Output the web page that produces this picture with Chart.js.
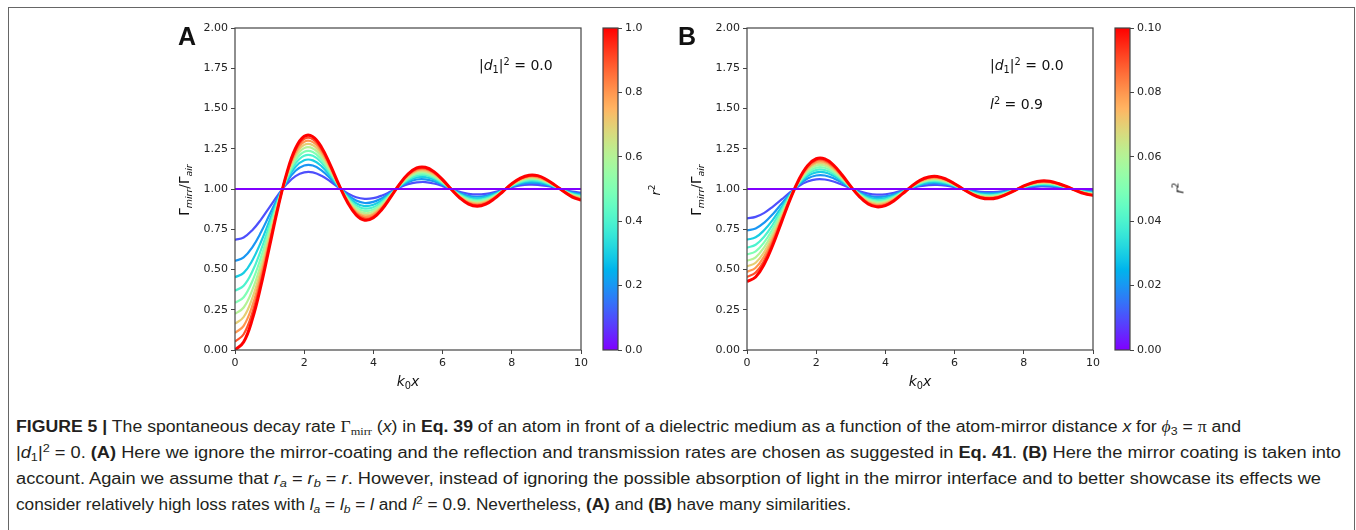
<!DOCTYPE html>
<html>
<head>
<meta charset="utf-8">
<script src="https://cdn.jsdelivr.net/npm/chart.js@4.4.1/dist/chart.umd.min.js"></script>
<style>
html,body{margin:0;padding:0;background:#fff;}
#wrap{position:relative;width:1356px;height:530px;overflow:hidden;font-family:"DejaVu Sans",sans-serif;color:#111;}
.frame{position:absolute;left:8px;top:7px;width:1347px;height:600px;border:1px solid #666;border-bottom:none;box-sizing:border-box;}
canvas{position:absolute;}
.t{position:absolute;white-space:nowrap;line-height:1;}
.rot{position:absolute;white-space:nowrap;line-height:1;transform:translate(-50%,-50%) rotate(-90deg);}
.ctr{position:absolute;white-space:nowrap;line-height:1;transform:translate(-50%,-50%);}
.letter{font-family:"Liberation Sans",Arial,sans-serif;font-weight:bold;font-size:25px;}
sub.m,sup.m{font-size:70%;line-height:0;}
sub.m{vertical-align:-0.3em;}
sup.m{vertical-align:0.55em;}
.cap{position:absolute;left:16px;white-space:nowrap;display:inline-block;transform-origin:0 0;
  font-family:"Liberation Sans Narrow","Liberation Sans",Arial,sans-serif;font-size:16px;line-height:20px;color:#231f20;}
.cap b{font-weight:bold;}
.cap sub,.cap sup{font-size:70%;line-height:0;}
.cap sub{vertical-align:-0.3em;}
.cap sup{vertical-align:0.5em;}
.serif{font-family:"Liberation Serif","Times New Roman",serif;}
</style>
</head>
<body>
<div id="wrap">
  <div class="frame"></div>
  <canvas id="chartA" width="430" height="385" style="left:170px;top:10px;"></canvas>
  <canvas id="cbarA" width="80" height="360" style="left:590px;top:10px;"></canvas>
  <canvas id="chartB" width="430" height="385" style="left:682px;top:10px;"></canvas>
  <canvas id="cbarB" width="80" height="360" style="left:1102px;top:10px;"></canvas>

  <div class="t letter" style="left:178px;top:24px;">A</div>
  <div class="t letter" style="left:678px;top:24px;">B</div>

  <div class="rot" style="left:185px;top:190px;font-size:13.5px;">Γ<sub class="m"><i>mirr</i></sub>/Γ<sub class="m"><i>air</i></sub></div>
  <div class="rot" style="left:697px;top:190px;font-size:13.5px;">Γ<sub class="m"><i>mirr</i></sub>/Γ<sub class="m"><i>air</i></sub></div>
  <div class="ctr" style="left:408px;top:381px;font-size:14px;"><i>k</i><sub class="m">0</sub><i>x</i></div>
  <div class="ctr" style="left:920px;top:381px;font-size:14px;"><i>k</i><sub class="m">0</sub><i>x</i></div>
  <div class="rot" style="left:655px;top:190px;font-size:13px;"><i>r</i><sup class="m">2</sup></div>
  <div class="rot" style="left:1179px;top:188px;font-size:13px;"><i>r</i><sup class="m">2</sup></div>

  <div class="t" style="left:479px;top:58px;font-size:14px;">|<i>d</i><sub class="m">1</sub>|<sup class="m">2</sup> = 0.0</div>
  <div class="t" style="left:990px;top:58px;font-size:14px;">|<i>d</i><sub class="m">1</sub>|<sup class="m">2</sup> = 0.0</div>
  <div class="t" style="left:990px;top:97px;font-size:14px;"><i>l</i><sup class="m">2</sup> = 0.9</div>

  <div class="cap" data-w="1225" style="top:417px;"><b>FIGURE 5 |</b> The spontaneous decay rate <span class="serif">Γ<sub>mirr</sub></span> (<i>x</i>) in <b>Eq. 39</b> of an atom in front of a dielectric medium as a function of the atom-mirror distance <i>x</i> for <i class="serif">ϕ</i><sub>3</sub> = <span class="serif">π</span> and</div>
  <div class="cap" data-w="1325" style="top:443px;">|<i>d</i><sub>1</sub>|<sup>2</sup> = 0. <b>(A)</b> Here we ignore the mirror-coating and the reflection and transmission rates are chosen as suggested in <b>Eq. 41</b>. <b>(B)</b> Here the mirror coating is taken into</div>
  <div class="cap" data-w="1305" style="top:469px;">account. Again we assume that <i>r<sub>a</sub></i> = <i>r<sub>b</sub></i> = <i>r</i>. However, instead of ignoring the possible absorption of light in the mirror interface and to better showcase its effects we</div>
  <div class="cap" data-w="835" style="top:495px;">consider relatively high loss rates with <i>l<sub>a</sub></i> = <i>l<sub>b</sub></i> = <i>l</i> and <i>l</i><sup>2</sup> = 0.9. Nevertheless, <b>(A)</b> and <b>(B)</b> have many similarities.</div>
</div>

<script>
// ---------------- DATA ----------------
const xValues = [0,0.25,0.5,0.75,1,1.25,1.5,1.75,2,2.25,2.5,2.75,3,3.25,3.5,3.75,4,4.25,4.5,4.75,5,5.25,5.5,5.75,6,6.25,6.5,6.75,7,7.25,7.5,7.75,8,8.25,8.5,8.75,9,9.25,9.5,9.75,10];

// Panel A: r^2 values of the curves
const r2A = [0,0.1,0.2,0.3,0.4,0.5,0.6,0.7,0.8,0.9,1.0];
// Panel B: r^2 values of the curves (l^2 = 0.9)
const r2B = [0,0.01,0.02,0.03,0.04,0.05,0.06,0.07,0.08,0.09,0.10];

const A_r00 = [1,1,1,1,1,1,1,1,1,1,1,1,1,1,1,1,1,1,1,1,1,1,1,1,1,1,1,1,1,1,1,1,1,1,1,1,1,1,1,1,1];
const A_r01 = [0.684,0.699,0.744,0.810,0.888,0.965,1.032,1.080,1.103,1.103,1.082,1.048,1.009,0.974,0.949,0.939,0.943,0.960,0.984,1.009,1.030,1.041,1.043,1.034,1.018,0.999,0.982,0.970,0.966,0.970,0.981,0.996,1.010,1.022,1.027,1.026,1.019,1.008,0.995,0.984,0.978];
const A_r02 = [0.553,0.575,0.638,0.731,0.841,0.951,1.046,1.113,1.146,1.146,1.116,1.067,1.012,0.963,0.928,0.913,0.920,0.943,0.977,1.013,1.042,1.059,1.060,1.048,1.026,0.999,0.975,0.958,0.952,0.958,0.973,0.994,1.015,1.031,1.038,1.037,1.027,1.011,0.993,0.978,0.969];
const A_r03 = [0.452,0.479,0.556,0.671,0.805,0.940,1.056,1.138,1.179,1.178,1.142,1.083,1.015,0.954,0.912,0.894,0.902,0.931,0.972,1.016,1.051,1.072,1.074,1.059,1.032,0.999,0.969,0.949,0.942,0.949,0.967,0.993,1.018,1.037,1.047,1.045,1.032,1.013,0.991,0.973,0.962];
const A_r04 = [0.368,0.399,0.487,0.620,0.775,0.931,1.065,1.160,1.207,1.206,1.164,1.095,1.018,0.947,0.898,0.878,0.887,0.920,0.968,1.018,1.059,1.083,1.086,1.068,1.037,0.999,0.964,0.941,0.933,0.941,0.962,0.991,1.021,1.043,1.054,1.052,1.038,1.015,0.990,0.969,0.956];
const A_r05 = [0.293,0.328,0.427,0.575,0.749,0.923,1.072,1.179,1.231,1.230,1.183,1.107,1.020,0.941,0.886,0.863,0.873,0.911,0.964,1.020,1.066,1.093,1.096,1.076,1.041,0.999,0.960,0.934,0.925,0.934,0.958,0.990,1.023,1.048,1.061,1.059,1.042,1.017,0.989,0.965,0.951];
const A_r06 = [0.225,0.264,0.372,0.534,0.725,0.915,1.079,1.196,1.254,1.252,1.201,1.117,1.022,0.936,0.875,0.850,0.861,0.902,0.961,1.022,1.072,1.101,1.105,1.084,1.045,0.999,0.956,0.927,0.917,0.927,0.954,0.989,1.025,1.053,1.067,1.064,1.046,1.019,0.988,0.962,0.946];
const A_r07 = [0.163,0.205,0.322,0.497,0.703,0.908,1.086,1.211,1.274,1.272,1.217,1.126,1.023,0.930,0.865,0.838,0.850,0.894,0.957,1.024,1.078,1.110,1.113,1.090,1.048,0.999,0.953,0.922,0.911,0.922,0.950,0.989,1.027,1.057,1.072,1.069,1.050,1.020,0.987,0.959,0.942];
const A_r08 = [0.106,0.150,0.275,0.462,0.682,0.902,1.092,1.226,1.293,1.291,1.232,1.135,1.025,0.926,0.856,0.827,0.840,0.887,0.954,1.025,1.084,1.117,1.121,1.097,1.052,0.998,0.950,0.916,0.905,0.916,0.947,0.988,1.029,1.061,1.077,1.074,1.053,1.022,0.986,0.956,0.938];
const A_r09 = [0.051,0.098,0.231,0.430,0.663,0.896,1.097,1.240,1.311,1.309,1.246,1.143,1.026,0.921,0.847,0.816,0.830,0.880,0.952,1.027,1.089,1.124,1.128,1.102,1.055,0.998,0.947,0.911,0.899,0.911,0.943,0.987,1.031,1.065,1.082,1.079,1.056,1.023,0.985,0.953,0.934];
const A_r10 = [0.000,0.049,0.190,0.399,0.645,0.891,1.102,1.253,1.327,1.325,1.259,1.151,1.028,0.917,0.839,0.806,0.821,0.874,0.949,1.028,1.093,1.131,1.135,1.108,1.058,0.998,0.944,0.906,0.893,0.906,0.940,0.986,1.033,1.068,1.086,1.083,1.059,1.024,0.984,0.950,0.930];

const B_r00 = [1,1,1,1,1,1,1,1,1,1,1,1,1,1,1,1,1,1,1,1,1,1,1,1,1,1,1,1,1,1,1,1,1,1,1,1,1,1,1,1,1];
const B_r01 = [0.818,0.827,0.852,0.891,0.935,0.980,1.019,1.046,1.060,1.059,1.047,1.027,1.005,0.985,0.971,0.965,0.967,0.977,0.991,1.005,1.017,1.024,1.025,1.020,1.011,1.000,0.990,0.983,0.981,0.983,0.989,0.998,1.006,1.012,1.016,1.015,1.011,1.004,0.997,0.991,0.987];
const B_r02 = [0.743,0.755,0.791,0.845,0.909,0.972,1.026,1.065,1.084,1.084,1.067,1.039,1.007,0.979,0.959,0.950,0.954,0.967,0.987,1.007,1.024,1.034,1.035,1.028,1.015,1.000,0.986,0.976,0.973,0.976,0.985,0.996,1.008,1.018,1.022,1.021,1.015,1.006,0.996,0.987,0.982];
const B_r03 = [0.685,0.700,0.745,0.810,0.888,0.966,1.032,1.080,1.103,1.103,1.082,1.048,1.009,0.974,0.949,0.939,0.944,0.960,0.984,1.009,1.029,1.041,1.043,1.034,1.018,0.999,0.982,0.970,0.966,0.970,0.981,0.996,1.010,1.022,1.027,1.026,1.019,1.008,0.995,0.984,0.978];
const B_r04 = [0.636,0.654,0.705,0.781,0.871,0.960,1.037,1.092,1.119,1.118,1.094,1.055,1.010,0.970,0.941,0.930,0.935,0.954,0.981,1.010,1.034,1.048,1.049,1.039,1.021,0.999,0.980,0.966,0.961,0.966,0.978,0.995,1.012,1.025,1.031,1.030,1.022,1.009,0.994,0.982,0.975];
const B_r05 = [0.593,0.613,0.670,0.755,0.855,0.955,1.042,1.103,1.133,1.132,1.105,1.061,1.011,0.966,0.934,0.921,0.927,0.949,0.979,1.012,1.038,1.053,1.055,1.044,1.024,0.999,0.977,0.962,0.957,0.962,0.976,0.994,1.013,1.028,1.035,1.034,1.024,1.010,0.994,0.980,0.972];
const B_r06 = [0.554,0.576,0.639,0.732,0.842,0.951,1.046,1.113,1.146,1.145,1.116,1.067,1.012,0.963,0.928,0.914,0.920,0.944,0.977,1.013,1.042,1.058,1.060,1.048,1.026,0.999,0.975,0.958,0.952,0.958,0.973,0.994,1.014,1.030,1.038,1.037,1.026,1.011,0.993,0.978,0.969];
const B_r07 = [0.519,0.542,0.610,0.710,0.829,0.947,1.049,1.122,1.158,1.157,1.125,1.073,1.013,0.960,0.922,0.907,0.914,0.939,0.975,1.014,1.045,1.063,1.065,1.052,1.028,0.999,0.973,0.955,0.949,0.955,0.971,0.993,1.016,1.033,1.041,1.040,1.029,1.012,0.992,0.976,0.966];
const B_r08 = [0.485,0.511,0.583,0.690,0.817,0.944,1.053,1.130,1.168,1.168,1.133,1.078,1.014,0.957,0.917,0.900,0.908,0.935,0.974,1.015,1.048,1.067,1.070,1.056,1.030,0.999,0.971,0.952,0.945,0.952,0.969,0.993,1.017,1.035,1.044,1.043,1.031,1.013,0.992,0.974,0.964];
const B_r09 = [0.454,0.481,0.557,0.672,0.806,0.940,1.056,1.138,1.179,1.178,1.141,1.082,1.015,0.955,0.912,0.894,0.902,0.931,0.972,1.015,1.051,1.072,1.074,1.059,1.032,0.999,0.969,0.949,0.942,0.949,0.967,0.993,1.018,1.037,1.047,1.045,1.032,1.013,0.991,0.973,0.962];
const B_r10 = [0.425,0.453,0.534,0.654,0.796,0.937,1.059,1.145,1.188,1.187,1.149,1.087,1.016,0.952,0.907,0.889,0.897,0.927,0.971,1.016,1.054,1.075,1.078,1.062,1.033,0.999,0.968,0.946,0.939,0.946,0.966,0.992,1.019,1.039,1.050,1.048,1.034,1.014,0.991,0.971,0.960];

const seriesA = [A_r00,A_r01,A_r02,A_r03,A_r04,A_r05,A_r06,A_r07,A_r08,A_r09,A_r10];
const seriesB = [B_r00,B_r01,B_r02,B_r03,B_r04,B_r05,B_r06,B_r07,B_r08,B_r09,B_r10];

// Tick labels
const xTickLabels = ['0','2','4','6','8','10'];
const yTickLabels = ['0.00','0.25','0.50','0.75','1.00','1.25','1.50','1.75','2.00'];
const cbarTickLabelsA = ['0.0','0.2','0.4','0.6','0.8','1.0'];
const cbarTickLabelsB = ['0.00','0.02','0.04','0.06','0.08','0.10'];

// ---------------- STYLE ----------------
function rainbow(t){ // matplotlib 'rainbow' colormap
  const c = v => Math.max(0, Math.min(1, v));
  const r = c(Math.abs(2*t - 0.5));
  const g = c(Math.sin(Math.PI*t));
  const b = c(Math.cos(Math.PI*t/2));
  return `rgb(${Math.round(r*255)},${Math.round(g*255)},${Math.round(b*255)})`;
}
const tickFont = {family:'"DejaVu Sans", sans-serif', size:11};
const tickColor = '#222';
const frameColor = '#444';

const framePlugin = {
  id:'frame',
  afterDatasetsDraw(chart){
    const {ctx, chartArea:{left,top,right,bottom}} = chart;
    ctx.save();
    ctx.strokeStyle = frameColor; ctx.lineWidth = 1.2;
    ctx.strokeRect(left, top, right-left, bottom-top);
    ctx.restore();
  }
};
const gradPlugin = {
  id:'grad',
  beforeDatasetsDraw(chart){
    const {ctx, chartArea:{left,top,right,bottom}} = chart;
    const g = ctx.createLinearGradient(0, bottom, 0, top);
    for(let i=0;i<=40;i++){ const t=i/40; g.addColorStop(t, rainbow(t)); }
    ctx.save(); ctx.fillStyle = g; ctx.fillRect(left, top, right-left, bottom-top); ctx.restore();
  }
};

function makeDatasets(series, r2vals, r2max){
  // draw order: purple reference line on top, then red ... blue
  const ds = [];
  const idx = [0,10,9,8,7,6,5,4,3,2,1];
  idx.forEach(k=>{
    ds.push({
      data: series[k].map((y,i)=>({x:xValues[i], y:y})),
      borderColor: rainbow(r2vals[k]/r2max),
      borderWidth: k===10 ? 3 : 2.2,
      pointRadius: 0,
      tension: 0.4,
      fill:false,
      clip: 0
    });
  });
  return ds;
}

function mainChart(id, series, r2vals, r2max){
  return new Chart(document.getElementById(id), {
    type:'line',
    data:{datasets: makeDatasets(series, r2vals, r2max)},
    plugins:[framePlugin],
    options:{
      responsive:false, animation:false, events:[],
      layout:{padding:{left:0, top:18, right:19, bottom:0}},
      plugins:{legend:{display:false}, tooltip:{enabled:false}},
      scales:{
        x:{type:'linear', min:0, max:10,
           afterFit(s){ s.height = 45; },
           grid:{display:true, drawOnChartArea:false, drawTicks:true, tickLength:4, color:frameColor},
           border:{display:false},
           ticks:{stepSize:2, font:tickFont, color:tickColor, padding:3, maxRotation:0,
             callback:(v)=> xTickLabels[Math.round(v/2)]}},
        y:{type:'linear', min:0, max:2,
           afterFit(s){ s.width = 65; },
           grid:{display:true, drawOnChartArea:false, drawTicks:true, tickLength:4, color:frameColor},
           border:{display:false},
           ticks:{stepSize:0.25, font:tickFont, color:tickColor, padding:3,
             callback:(v)=> yTickLabels[Math.round(v/0.25)]}}
      }
    }
  });
}

function colorBar(id, labels){
  return new Chart(document.getElementById(id), {
    type:'line',
    data:{datasets:[]},
    plugins:[gradPlugin, framePlugin],
    options:{
      responsive:false, animation:false, events:[],
      layout:{padding:{left:13, top:18, right:0, bottom:20}},
      plugins:{legend:{display:false}, tooltip:{enabled:false}},
      scales:{
        x:{type:'linear', min:0, max:1, display:false},
        y:{type:'linear', position:'right', min:0, max:1,
           afterFit(s){ s.width = 52; },
           grid:{display:true, drawOnChartArea:false, drawTicks:true, tickLength:4, color:frameColor},
           border:{display:false},
           ticks:{stepSize:0.2, font:tickFont, color:tickColor, padding:3,
             callback:(v)=> labels[Math.round(v/0.2)]}}
      }
    }
  });
}

mainChart('chartA', seriesA, r2A, 1.0);
mainChart('chartB', seriesB, r2B, 0.1);
colorBar('cbarA', cbarTickLabelsA);
colorBar('cbarB', cbarTickLabelsB);

// fit caption lines to the reference line widths
document.querySelectorAll('.cap').forEach(el=>{
  const w = el.getBoundingClientRect().width;
  const tw = +el.dataset.w;
  if (w > 0) el.style.transform = `scaleX(${tw/w})`;
});
</script>
</body>
</html>
